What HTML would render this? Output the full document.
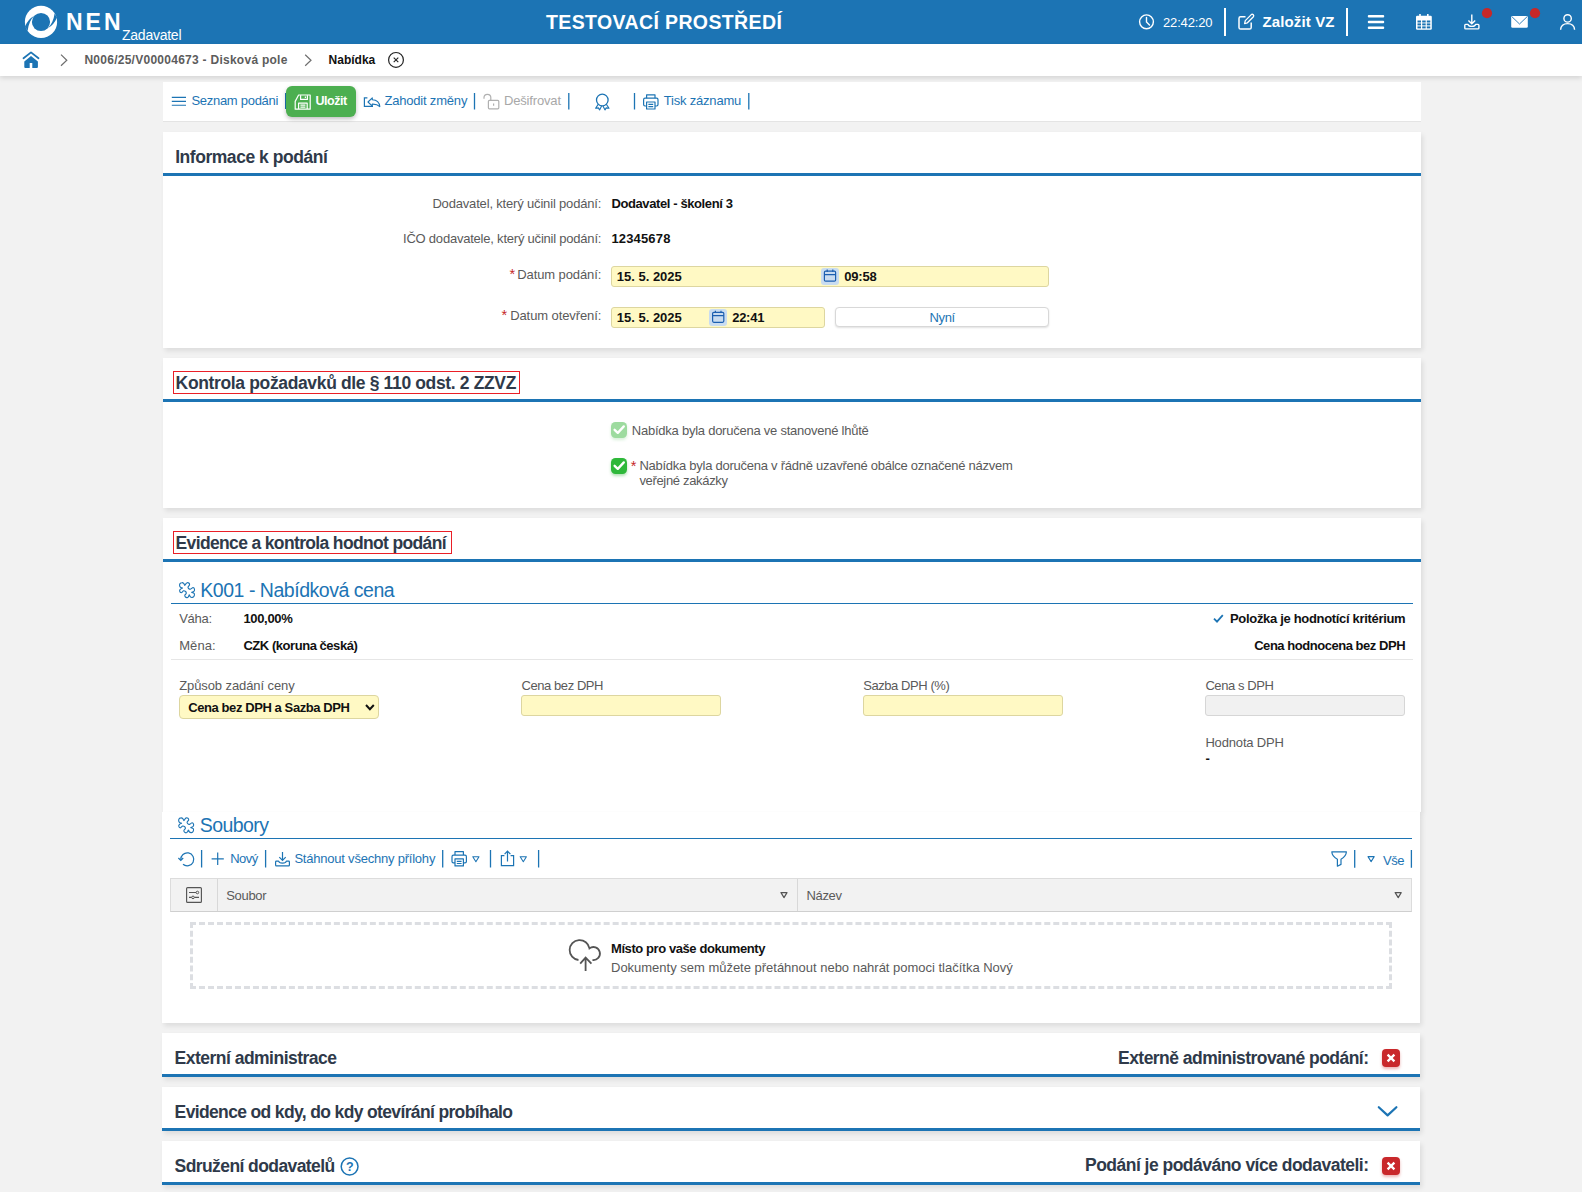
<!DOCTYPE html>
<html lang="cs"><head>
<meta charset="utf-8">
<title>NEN - Nabídka</title>
<style>
*{box-sizing:border-box;margin:0;padding:0}
html,body{width:1582px;height:1192px;overflow:hidden}
body{background:#f2f2f2;font-family:"Liberation Sans",sans-serif;font-size:13px;color:#222;position:relative}
.abs,.t{position:absolute;white-space:nowrap}
.t{line-height:16px;height:16px}
.b{font-weight:bold}
.blue{color:#1c74b4}
.gray{color:#5a5a5a}
.r{text-align:right}
#hdr{left:0;top:0;width:1582px;height:44px;background:#1c74b4}
#bc{left:0;top:44px;width:1582px;height:32px;background:#fff;box-shadow:0 2px 5px rgba(0,0,0,.13)}
.panel{position:absolute;background:#fff;box-shadow:2px 3px 5px rgba(0,0,0,.09)}
.hline{position:absolute;left:0;right:0;height:3px;background:#1c74b4}
.ptitle{position:absolute;font-weight:bold;font-size:17.5px;line-height:22px;color:#2f3a4a;white-space:nowrap;letter-spacing:-0.6px}
.sep{position:absolute;width:2px;height:16px;background:#1c74b4}
.inp{position:absolute;border:1px solid #ddd6a0;border-radius:3px;background:#fff9c4;height:21px}
svg{position:absolute;overflow:visible}
</style>
</head>
<body>

<!-- HEADER -->
<div id="hdr" class="abs"></div>
<div id="bc" class="abs"></div>

<!-- PANELS -->
<div class="panel" id="ptool" style="left:163px;top:82px;width:1258px;height:38.6px;box-shadow:0 1px 0 #e4e4e4"></div>
<div class="panel" id="p1" style="left:163px;top:132px;width:1258px;height:216px"><div class="hline" style="top:41px"></div></div>
<div class="panel" id="p2" style="left:163px;top:358px;width:1258px;height:149.5px"><div class="hline" style="top:41px"></div></div>
<div class="panel" id="p3" style="left:163px;top:518px;width:1258px;height:294px"><div class="hline" style="top:41px"></div></div>
<div class="panel" id="p3b" style="left:162px;top:812px;width:1258px;height:211px"></div>
<div class="panel" id="p4" style="left:162px;top:1033px;width:1258px;height:44px"><div class="hline" style="top:41px;height:3px"></div></div>
<div class="panel" id="p5" style="left:162px;top:1087px;width:1258px;height:44px"><div class="hline" style="top:41px;height:3px"></div></div>
<div class="panel" id="p6" style="left:162px;top:1141px;width:1258px;height:44px"><div class="hline" style="top:41px;height:3px"></div></div>


<header>
<!-- header content -->
<svg style="left:0;top:0" width="1582" height="44" viewBox="0 0 1582 44">
  <circle cx="41" cy="21.9" r="16.1" fill="#fff"></circle>
  <circle cx="41" cy="22" r="9.1" fill="#1c74b4"></circle>
  <path d="M34.2,15.8 Q27.8,19.5 25,26.6 L27.6,31 Q28.6,21.5 34.2,15.8 Z" fill="#1c74b4"></path>
  <path d="M47.8,28.2 Q54.2,24.5 57,17.4 L54.6,13.4 Q53.4,22.5 47.8,28.2 Z" fill="#1c74b4"></path>
  <!-- clock -->
  <circle cx="1146.5" cy="21.8" r="6.9" fill="none" stroke="#fff" stroke-width="1.4"></circle>
  <path d="M1146.5,17.5 V22 L1149.5,25" fill="none" stroke="#fff" stroke-width="1.4" stroke-linecap="round"></path>
  <rect x="1224" y="8" width="2" height="28" fill="#fff"></rect>
  <rect x="1346" y="8" width="2" height="28" fill="#fff"></rect>
  <!-- edit -->
  <path d="M1245.5,16.8 H1240.6 Q1239,16.8 1239,18.4 V27.4 Q1239,29 1240.6,29 H1249.6 Q1251.2,29 1251.2,27.4 V22.5" fill="none" stroke="#fff" stroke-width="1.5"></path>
  <path d="M1244.6,23.6 L1245.3,20.6 L1251.3,14.6 Q1252.3,13.8 1253.3,14.8 Q1254.2,15.8 1253.4,16.7 L1247.4,22.8 Z" fill="none" stroke="#fff" stroke-width="1.3" stroke-linejoin="round"></path>
  <!-- hamburger -->
  <rect x="1367.8" y="15.1" width="16.4" height="2.4" rx="1" fill="#fff"></rect>
  <rect x="1367.8" y="20.8" width="16.4" height="2.4" rx="1" fill="#fff"></rect>
  <rect x="1367.8" y="26.5" width="16.4" height="2.4" rx="1" fill="#fff"></rect>
  <!-- calendar -->
  <path d="M1416,17 Q1416,15.8 1417.2,15.8 H1430.6 Q1431.8,15.8 1431.8,17 V28.6 Q1431.8,29.8 1430.6,29.8 H1417.2 Q1416,29.8 1416,28.6 Z" fill="#fff"></path>
  <rect x="1419.2" y="14" width="1.6" height="3.4" fill="#fff"></rect><rect x="1427" y="14" width="1.6" height="3.4" fill="#fff"></rect>
  <g fill="#1c74b4"><rect x="1417.5" y="20.5" width="3.5" height="2"></rect><rect x="1422.2" y="20.5" width="3.5" height="2"></rect><rect x="1426.8" y="20.5" width="3.5" height="2"></rect><rect x="1417.5" y="23.4" width="3.5" height="2"></rect><rect x="1422.2" y="23.4" width="3.5" height="2"></rect><rect x="1426.8" y="23.4" width="3.5" height="2"></rect><rect x="1417.5" y="26.4" width="3.5" height="2"></rect><rect x="1422.2" y="26.4" width="3.5" height="2"></rect><rect x="1426.8" y="26.4" width="3.5" height="2"></rect></g>
  <!-- download -->
  <path d="M1471.8,14.4 V23.4 M1468.4,20.4 L1471.8,23.8 L1475.2,20.4" fill="none" stroke="#fff" stroke-width="1.4"></path>
  <path d="M1468,24.4 H1465.6 Q1464.8,24.4 1464.8,25.2 V28 Q1464.8,28.9 1465.6,28.9 H1478 Q1478.9,28.9 1478.9,28 V25.2 Q1478.9,24.4 1478,24.4 H1475.6 Q1475.2,26.4 1471.8,26.4 Q1468.4,26.4 1468,24.4 Z" fill="none" stroke="#fff" stroke-width="1.4" stroke-linejoin="round"></path>
  <circle cx="1487" cy="13.2" r="5.1" fill="#c62828"></circle>
  <!-- mail -->
  <rect x="1511.2" y="16" width="16.6" height="11.8" rx="1.3" fill="#fff"></rect>
  <path d="M1511.8,16.6 L1519.5,24 L1527.2,16.6" fill="none" stroke="#1c74b4" stroke-width="0.9"></path>
  <circle cx="1535" cy="13.2" r="5.1" fill="#c62828"></circle>
  <!-- user -->
  <circle cx="1567.6" cy="18.4" r="3.7" fill="none" stroke="#fff" stroke-width="1.4"></circle>
  <path d="M1560.6,29.8 Q1561,23.6 1567.6,23.6 Q1574.2,23.6 1574.6,29.8" fill="none" stroke="#fff" stroke-width="1.4"></path>
</svg>
<div class="t b" style="left: 66px; font-size: 23px; line-height: 26px; height: 26px; color: rgb(255, 255, 255); letter-spacing: 2.969px; top: 9px;">NEN</div>
<div class="t" style="left: 122px; font-size: 14px; color: rgb(255, 255, 255); letter-spacing: -0.248px; top: 27px;">Zadavatel</div>
<div class="t b" style="left: 546px; font-size: 19.5px; line-height: 24px; height: 24px; color: rgb(255, 255, 255); letter-spacing: 0.379px; top: 10px;">TESTOVACÍ PROSTŘEDÍ</div>
<div class="t" style="left: 1163px; font-size: 13px; color: rgb(255, 255, 255); letter-spacing: -0.158px; top: 15px;">22:42:20</div>
<div class="t b" style="left: 1262.5px; font-size: 15px; line-height: 18px; height: 18px; color: rgb(255, 255, 255); letter-spacing: 0.128px; top: 13px;">Založit VZ</div>

</header>
<nav aria-label="breadcrumb">
<!-- breadcrumb content -->
<svg style="left:0;top:44px" width="500" height="32" viewBox="0 44 500 32">
  <path d="M23.5,58.3 L31,52.4 L38.5,58.3" fill="none" stroke="#1c74b4" stroke-width="1.8" stroke-linejoin="round" stroke-linecap="round"></path>
  <path d="M31,56.1 L37.9,61.5 V66.9 Q37.9,67.9 36.9,67.9 H32.3 V63 H29.7 V67.9 H25.3 Q24.3,67.9 24.3,66.9 V61.5 Z" fill="#1c74b4"></path>
  <path d="M61,54.6 L66.8,60.2 L61,65.7" fill="none" stroke="#6e6e6e" stroke-width="1.2"></path>
  <path d="M305.2,54.8 L311,60.3 L305.2,65.8" fill="none" stroke="#6e6e6e" stroke-width="1.2"></path>
  <circle cx="396" cy="59.9" r="7.4" fill="none" stroke="#222" stroke-width="1.2"></circle>
  <path d="M393.7,57.6 L398.3,62.2 M398.3,57.6 L393.7,62.2" fill="none" stroke="#222" stroke-width="1.1"></path>
</svg>
<div class="t b" style="left: 84.4px; font-size: 12px; color: rgb(92, 92, 92); letter-spacing: 0.265px; top: 52px;">N006/25/V00004673 - Disková pole</div>
<div class="t b" style="left: 328.5px; font-size: 12px; color: rgb(17, 17, 17); letter-spacing: 0.019px; top: 52px;">Nabídka</div>


</nav>
<main>
<section aria-label="toolbar">
<!-- toolbar -->
<div class="abs" style="left:284.6px;top:93px;width:1.6px;height:16.4px;background:#1c74b4"></div>
<div class="abs" id="btnsave" style="left:286px;top:86px;width:70px;height:30.5px;background:#4caf50;border-radius:6px;box-shadow:0 2px 4px rgba(0,0,0,.25)"></div>
<svg style="left:160px;top:82px" width="640" height="40" viewBox="160 82 640 40" fill="none" stroke="#1c74b4" stroke-width="1.2">
  <path d="M171.8,97.4 H186 M171.8,101.4 H186 M171.8,105.3 H186" stroke-width="1.1"></path>
  <!-- save -->
  <g stroke="#fff" stroke-width="1.2" stroke-linejoin="round">
   <path d="M295.2,109.2 V101.4 L298.6,95 H310.2 V109.2 Z"></path>
   <path d="M300.6,95.2 V99.4 H307.4 V95.2 M305.4,96.4 V98"></path>
   <path d="M298.6,109 V103.2 H307.2 V109 M300.4,105.2 H305.4 M300.4,107.2 H305.4"></path>
  </g>
  <!-- undo -->
  <path d="M367.4,97.8 H364.4 V106.4 H373" stroke-width="1.2"></path>
  <path d="M368,102 L372.3,97.8 V99.7 Q379.2,100 379.8,106.6 Q377,103.9 372.3,104.1 V106.2 Z" stroke-width="1.1" stroke-linejoin="round"></path>
  <!-- seps -->
  <path d="M474.5,93 V109.4 M568.8,93 V109.4 M634.5,93 V109.4 M748.8,93 V109.4" stroke-width="1.3"></path>
  <!-- lock -->
  <g stroke="#b0b0b0" stroke-width="1.2">
   <rect x="488.4" y="100.4" width="10.4" height="8.4" rx="1"></rect>
   <path d="M484,98.8 V97.6 Q484,94.4 487.4,94.4 Q490.8,94.4 490.8,97.6 V100.2"></path>
   <path d="M493.6,103.4 V105.8"></path>
  </g>
  <!-- award -->
  <circle cx="602.3" cy="100" r="5.8" stroke-width="1.3"></circle>
  <path d="M598.2,104.4 L595.6,108.2 L598.4,107.9 L599.6,109.9 L601.6,105.9 M606.4,104.4 L609,108.2 L606.2,107.9 L605,109.9 L603,105.9" stroke-width="1.1" stroke-linejoin="round"></path>
  <!-- print -->
  <g stroke-width="1.2" stroke-linejoin="round">
   <path d="M646.6,98.2 V94.8 H655 V98.2"></path>
   <path d="M646.6,106 H645 Q643.6,106 643.6,104.6 V99.8 Q643.6,98.2 645,98.2 H656.6 Q658,98.2 658,99.8 V104.6 Q658,106 656.6,106 H655"></path>
   <path d="M646.6,102 H655 V109 H646.6 Z M648.4,104.4 H653.2 M648.4,106.6 H653.2"></path>
  </g>
</svg>
<div class="t blue" style="left: 191.4px; font-size: 13px; letter-spacing: -0.279px; top: 93px;">Seznam podáni</div>
<div class="t b" style="left: 315.6px; font-size: 12.5px; color: rgb(255, 255, 255); letter-spacing: -0.506px; top: 92.8px;">Uložit</div>
<div class="t blue" style="left: 384.4px; font-size: 13px; letter-spacing: -0.189px; top: 93px;">Zahodit změny</div>
<div class="t" style="left: 504px; font-size: 13px; color: rgb(168, 168, 168); letter-spacing: -0.17px; top: 93px;">Dešifrovat</div>
<div class="t blue" style="left: 663.8px; font-size: 13px; letter-spacing: -0.202px; top: 93px;">Tisk záznamu</div>


</section>
<section>
<!-- panel 1 content -->
<h2 class="ptitle" style="left: 175.2px; letter-spacing: -0.462px; top: 146px;">Informace k podání</h2>
<label class="t gray" style="left: 432.4px; letter-spacing: -0.172px; top: 195.6px;">Dodavatel, který učinil podání:</label>
<div class="t b" style="left: 611.4px; color: rgb(17, 17, 17); letter-spacing: -0.391px; top: 195.6px;">Dodavatel - školení 3</div>
<label class="t gray" style="left: 403px; letter-spacing: -0.216px; top: 230.6px;">IČO dodavatele, který učinil podání:</label>
<div class="t b" style="left: 611.4px; color: rgb(17, 17, 17); letter-spacing: 0.165px; top: 230.6px;">12345678</div>
<div class="t" style="left: 509.4px; color: rgb(198, 40, 40); font-size: 14.5px; letter-spacing: 0px; top: 266px;">*</div>
<label class="t gray" style="left: 517.3px; letter-spacing: -0.107px; top: 266.6px;">Datum podání:</label>
<div class="t" style="left: 501.6px; color: rgb(198, 40, 40); font-size: 14.5px; letter-spacing: 0px; top: 307px;">*</div>
<label class="t gray" style="left: 510.2px; letter-spacing: -0.093px; top: 307.6px;">Datum otevření:</label>
<div class="inp" style="left:611px;top:266px;width:438px;height:21px"></div>
<div class="inp" style="left:611px;top:307px;width:214px;height:21px"></div>
<div class="abs" style="left:821px;top:268.2px;width:18px;height:16.4px;border-radius:3px;background:#c9dcf0"></div>
<div class="abs" style="left:709.2px;top:309.3px;width:18px;height:16.4px;border-radius:3px;background:#c9dcf0"></div>
<svg style="left:600px;top:260px" width="460" height="75" viewBox="600 260 460 75" fill="none" stroke="#1c5fb0" stroke-width="1.2">
  <g id="calico"><rect x="824.4" y="271.2" width="11.2" height="10" rx="1.2"></rect><path d="M824.4,274.6 H835.6 M827.2,269.6 V272 M832.8,269.6 V272"></path></g>
  <g transform="translate(-111.8,41.1)"><rect x="824.4" y="271.2" width="11.2" height="10" rx="1.2"></rect><path d="M824.4,274.6 H835.6 M827.2,269.6 V272 M832.8,269.6 V272"></path></g>
</svg>
<div class="t b" style="left: 616.8px; color: rgb(17, 17, 17); letter-spacing: -0.006px; top: 268.6px;">15. 5. 2025</div>
<div class="t b" style="left: 844.2px; color: rgb(17, 17, 17); letter-spacing: -0.162px; top: 268.6px;">09:58</div>
<div class="t b" style="left: 616.8px; color: rgb(17, 17, 17); letter-spacing: -0.006px; top: 309.6px;">15. 5. 2025</div>
<div class="t b" style="left: 732.2px; color: rgb(17, 17, 17); letter-spacing: -0.262px; top: 309.6px;">22:41</div>
<div class="abs" style="left:835px;top:307px;width:214px;height:20px;border:1px solid #d8d8d8;border-radius:4px;background:#fff;box-shadow:0 1px 2px rgba(0,0,0,.12)"></div>
<div class="t blue" style="left: 929.6px; letter-spacing: -0.411px; top: 309.5px;">Nyní</div>


</section>
<section>
<!-- panel 2 content -->
<div class="abs" style="left:173px;top:371px;width:347px;height:23px;border:1px solid #ea1f27"></div>
<h2 class="ptitle" style="left: 175.6px; letter-spacing: -0.354px; top: 371.8px;">Kontrola požadavků dle § 110 odst. 2 ZZVZ</h2>
<div class="abs" style="left:611px;top:422px;width:16.4px;height:16.2px;border-radius:4.5px;background:#9ddb9f;box-shadow:0 2px 3px rgba(60,180,70,.2)"></div>
<div class="abs" style="left:611px;top:458px;width:16.4px;height:16.2px;border-radius:4.5px;background:#2eb83a;box-shadow:0 2px 3px rgba(40,170,50,.35)"></div>
<svg style="left:611px;top:422px" width="17" height="53" viewBox="611 422 17 53" fill="none" stroke="#fff" stroke-width="2.3" stroke-linecap="round" stroke-linejoin="round">
  <path d="M614.6,429.8 L617.8,432.9 L623.8,426.4"></path>
  <path d="M614.6,465.8 L617.8,468.9 L623.8,462.4"></path>
</svg>
<label class="t gray" style="left: 631.8px; letter-spacing: -0.242px; top: 423px;">Nabídka byla doručena ve stanovené lhůtě</label>
<div class="t" style="left: 630.8px; color: rgb(198, 40, 40); font-size: 14.5px; letter-spacing: 0px; top: 457.5px;">*</div>
<label class="t gray" style="left: 639.4px; letter-spacing: -0.257px; top: 458.3px;">Nabídka byla doručena v řádně uzavřené obálce označené názvem</label>
<label class="t gray" style="left: 639.4px; letter-spacing: -0.33px; top: 472.8px;">veřejné zakázky</label>


</section>
<section>
<!-- panel 3 content -->
<div class="abs" style="left:173px;top:531px;width:279px;height:23px;border:1px solid #ea1f27"></div>
<h2 class="ptitle" style="left: 175.6px; letter-spacing: -0.647px; top: 531.6px;">Evidence a kontrola hodnot podání</h2>
<svg style="left:163px;top:570px;z-index:3" width="1258" height="452" viewBox="163 570 1258 452" fill="none" stroke="#1c74b4" stroke-width="1.1">
  <path d="M184.8,585.4 C184.5,585.3 184.1,583.7 183.6,583.3 C183.1,582.8 182.4,582.6 181.8,582.7 C181.2,582.7 180.4,583.1 180.0,583.6 C179.7,584.1 179.5,585.0 179.6,585.6 C179.7,586.2 180.1,587.0 180.6,587.4 C181.0,587.8 182.5,587.8 182.5,588.0 C182.5,588.3 181.0,588.5 180.6,589.0 C180.1,589.4 179.5,590.1 179.6,590.8 C179.7,591.4 180.6,592.7 181.3,592.7 C181.9,592.7 182.9,591.0 183.6,590.8 C184.3,590.6 185.1,591.1 185.6,591.5 C186.0,591.9 186.4,592.6 186.3,593.3 C186.1,593.9 185.0,594.6 184.8,595.2 C184.7,595.8 185.0,596.6 185.4,597.0 C185.8,597.4 186.6,597.7 187.2,597.6 C187.7,597.6 188.2,596.9 188.6,596.5 C188.9,596.0 189.0,594.7 189.3,594.8 C189.6,594.8 189.9,596.4 190.4,596.8 C190.9,597.3 191.7,597.5 192.3,597.4 C192.9,597.3 193.7,596.9 194.0,596.3 C194.3,595.7 194.5,594.5 194.4,594.0 C194.2,593.4 193.7,593.2 193.2,592.9 C192.8,592.6 191.6,592.7 191.7,592.4 C191.8,592.2 193.5,591.8 193.9,591.3 C194.4,590.8 194.7,590.0 194.5,589.3 C194.4,588.7 193.7,587.8 193.2,587.6 C192.8,587.4 192.3,587.9 191.8,588.2 C191.3,588.4 190.9,589.2 190.4,589.2 C189.8,589.3 189.0,588.9 188.6,588.5 C188.2,588.1 187.9,587.7 188.0,587.0 C188.2,586.4 189.5,585.4 189.6,584.7 C189.7,584.0 189.2,583.4 188.8,583.0 C188.4,582.7 187.6,582.5 187.2,582.7 C186.7,582.8 186.3,583.4 185.9,583.8 C185.5,584.3 185.2,585.5 184.8,585.4 Z"></path>
  <path d="M183.9,820.6 C183.6,820.5 183.2,818.9 182.7,818.5 C182.2,818.0 181.5,817.8 180.9,817.9 C180.3,817.9 179.5,818.3 179.1,818.8 C178.8,819.3 178.6,820.2 178.7,820.8 C178.8,821.4 179.2,822.2 179.7,822.6 C180.1,823.0 181.6,823.0 181.6,823.2 C181.6,823.5 180.1,823.7 179.7,824.2 C179.2,824.6 178.6,825.3 178.7,826.0 C178.8,826.6 179.7,827.9 180.4,827.9 C181.0,827.9 182.0,826.2 182.7,826.0 C183.4,825.8 184.2,826.3 184.7,826.7 C185.1,827.1 185.5,827.8 185.4,828.5 C185.2,829.1 184.1,829.8 183.9,830.4 C183.8,831.0 184.1,831.8 184.5,832.2 C184.9,832.6 185.7,832.9 186.3,832.8 C186.8,832.8 187.3,832.1 187.7,831.7 C188.0,831.2 188.1,829.9 188.4,830.0 C188.7,830.0 189.0,831.6 189.5,832.0 C190.0,832.5 190.8,832.7 191.4,832.6 C192.0,832.5 192.8,832.1 193.1,831.5 C193.4,830.9 193.6,829.7 193.5,829.2 C193.3,828.6 192.8,828.4 192.3,828.1 C191.9,827.8 190.7,827.9 190.8,827.6 C190.9,827.4 192.6,827.0 193.0,826.5 C193.5,826.0 193.8,825.2 193.6,824.5 C193.5,823.9 192.8,823.0 192.3,822.8 C191.9,822.6 191.4,823.1 190.9,823.4 C190.4,823.6 190.0,824.4 189.5,824.4 C188.9,824.5 188.1,824.1 187.7,823.7 C187.3,823.3 187.0,822.9 187.1,822.2 C187.3,821.6 188.6,820.6 188.7,819.9 C188.8,819.2 188.3,818.6 187.9,818.2 C187.5,817.9 186.7,817.7 186.3,817.9 C185.8,818.0 185.4,818.6 185.0,819.0 C184.6,819.5 184.3,820.7 183.9,820.6 Z"></path>
  <!-- check -->
  <path d="M1214,618.6 L1217,621.6 L1222.8,615.2" stroke-width="1.8"></path>
  <!-- select chevron -->
  <path d="M366,705 L369.9,709.2 L373.8,705" stroke="#111" stroke-width="2"></path>
  <!-- refresh -->
  <path d="M180.8,859.8 A6.5,6.5 0 1 1 183,864.2" stroke-width="1.2"></path>
  <path d="M178.4,858 L180.8,860.4 L183.2,858" stroke-width="1.2"></path>
  <!-- seps -->
  <path d="M201.6,850 V867.6 M265.6,850 V867.6 M442.7,850 V867.6 M490.5,850 V867.6 M538.6,850 V867.6 M1354.7,850 V867.8 M1411.4,850 V867.8" stroke-width="1.3"></path>
  <!-- plus -->
  <path d="M211.6,858.8 H223.8 M217.7,852.6 V865" stroke-width="1.2"></path>
  <!-- download -->
  <path d="M282.5,852 V860.2 M279.3,857.2 L282.5,860.4 L285.7,857.2" stroke-width="1.2"></path>
  <path d="M278.6,861.2 H276.4 Q275.6,861.2 275.6,862 V865 Q275.6,865.9 276.4,865.9 H288.6 Q289.4,865.9 289.4,865 V862 Q289.4,861.2 288.6,861.2 H286.4 Q286,863.2 282.5,863.2 Q279,863.2 278.6,861.2 Z" stroke-width="1.2" stroke-linejoin="round"></path>
  <!-- print -->
  <g stroke-width="1.2" stroke-linejoin="round" transform="translate(-191.6,756.9)">
   <path d="M646.6,98.2 V94.8 H655 V98.2"></path>
   <path d="M646.6,106 H645 Q643.6,106 643.6,104.6 V99.8 Q643.6,98.2 645,98.2 H656.6 Q658,98.2 658,99.8 V104.6 Q658,106 656.6,106 H655"></path>
   <path d="M646.6,102 H655 V109 H646.6 Z M648.4,104.4 H653.2 M648.4,106.6 H653.2"></path>
  </g>
  <!-- triangles -->
  <path d="M472.8,856.8 H479 L475.9,861.8 Z M520.2,856.8 H526.4 L523.3,861.8 Z M1368,856.6 H1374.2 L1371.1,861.6 Z" stroke-width="1.05" stroke-linejoin="round"></path>
  <path d="M781,892.6 H787 L784,897.6 Z M1395.2,892.6 H1401.2 L1398.2,897.6 Z" stroke="#555" stroke-width="1.2" stroke-linejoin="round"></path>
  <!-- share -->
  <path d="M504.4,855.6 H501.4 V865.6 H513.6 V855.6 H510.6" stroke-width="1.2"></path>
  <path d="M507.5,861.4 V851.4 M504.6,854.2 L507.5,851.2 L510.4,854.2" stroke-width="1.2"></path>
  <!-- filter -->
  <path d="M1331.8,851.8 H1346.4 Q1346.2,856.4 1341,859.2 V864.4 L1337.4,866.2 V859.2 Q1332,856.4 1331.8,851.8 Z" stroke-width="1.2" stroke-linejoin="round"></path>
  <!-- settings -->
  <g stroke="#555" stroke-width="1.15">
   <rect x="186.6" y="887.6" width="14.8" height="14.8" rx="1"></rect>
   <path d="M189,892.5 H196 M189,897.4 H191.6 M194.4,897.4 H199" stroke-width="1.1"></path>
   <circle cx="197.4" cy="892.5" r="1.3" stroke-width="1"></circle><circle cx="193" cy="897.4" r="1.3" stroke-width="1"></circle>
  </g>
  <!-- cloud -->
  <g stroke="#555" stroke-width="1.8" stroke-linecap="butt" stroke-linejoin="miter">
   <path d="M578.5,960 A10,10 0 1 1 589.5,948.4 A6.5,6.5 0 1 1 592.5,960"></path>
   <path d="M585.6,970.9 V957.6 M580.2,963.7 L585.6,957.6 L591.4,963.7"></path>
  </g>
</svg>
<div class="t blue" style="left: 200.3px; font-size: 19.5px; line-height: 24px; height: 24px; letter-spacing: -0.471px; top: 577.7px;">K001 - Nabídková cena</div>
<div class="abs" style="left:171px;top:602.8px;width:1242px;height:1.5px;background:#1c74b4"></div>
<label class="t gray" style="left: 179.2px; letter-spacing: -0.246px; top: 610.9px;">Váha:</label>
<div class="t b" style="left: 243.4px; color: rgb(17, 17, 17); letter-spacing: -0.321px; top: 610.9px;">100,00%</div>
<div class="t b" style="left: 1230px; color: rgb(17, 17, 17); letter-spacing: -0.321px; top: 610.9px;">Položka je hodnotící kritérium</div>
<label class="t gray" style="left: 179.2px; letter-spacing: 0.065px; top: 637.7px;">Měna:</label>
<div class="t b" style="left: 243.4px; color: rgb(17, 17, 17); letter-spacing: -0.453px; top: 637.7px;">CZK (koruna česká)</div>
<div class="t b" style="left: 1254.2px; color: rgb(17, 17, 17); letter-spacing: -0.461px; top: 637.7px;">Cena hodnocena bez DPH</div>
<div class="abs" style="left:171px;top:659px;width:1242px;height:1px;background:#e6e6e6"></div>
<label class="t gray" style="left: 179.2px; letter-spacing: -0.093px; top: 677.6px;">Způsob zadání ceny</label>
<label class="t gray" style="left: 521.5px; letter-spacing: -0.429px; top: 677.6px;">Cena bez DPH</label>
<label class="t gray" style="left: 863.2px; letter-spacing: -0.429px; top: 677.6px;">Sazba DPH (%)</label>
<label class="t gray" style="left: 1205.4px; letter-spacing: -0.406px; top: 677.6px;">Cena s DPH</label>
<div class="inp" style="left:179px;top:695px;width:200px;height:23.5px;border-radius:4px"></div>
<div class="t b" style="left: 188.2px; color: rgb(17, 17, 17); letter-spacing: -0.41px; top: 699.9px;">Cena bez DPH a Sazba DPH</div>
<div class="inp" style="left:521px;top:695px;width:200px;height:21px"></div>
<div class="inp" style="left:863px;top:695px;width:200px;height:21px"></div>
<div class="inp" style="left:1205px;top:695px;width:200px;height:21px;background:#f1f1f1;border-color:#d6d6d6"></div>
<label class="t gray" style="left: 1205.4px; letter-spacing: -0.162px; top: 735px;">Hodnota DPH</label>
<div class="t b" style="left: 1205.6px; color: rgb(17, 17, 17); letter-spacing: 0px; top: 751px;">-</div>

<div class="t blue" style="left: 199.8px; font-size: 19.5px; line-height: 24px; height: 24px; letter-spacing: -0.573px; top: 812.5px;">Soubory</div>
<div class="abs" style="left:170px;top:837.8px;width:1242px;height:1.5px;background:#1c74b4"></div>
<div class="t blue" style="left: 230.2px; letter-spacing: -0.542px; top: 850.6px;">Nový</div>
<div class="t blue" style="left: 294.4px; letter-spacing: -0.217px; top: 850.6px;">Stáhnout všechny přílohy</div>
<div class="t blue" style="left: 1383px; letter-spacing: -0.503px; top: 852.7px;">Vše</div>
<div class="abs" style="left:170px;top:878px;width:1242px;height:33.5px;background:#f2f2f2;border:1px solid #dcdcdc;border-bottom-color:#cfcfcf"></div>
<div class="abs" style="left:217px;top:879px;width:1px;height:32px;background:#d8d8d8"></div>
<div class="abs" style="left:797px;top:879px;width:1px;height:32px;background:#d8d8d8"></div>
<label class="t gray" style="left: 226.2px; letter-spacing: -0.304px; top: 887.7px;">Soubor</label>
<label class="t gray" style="left: 806.6px; letter-spacing: -0.365px; top: 887.7px;">Název</label>
<div class="abs" style="left:190px;top:922px;width:1202px;height:67px;border:3px dashed #dcdee2"></div>
<div class="t b" style="left: 611px; color: rgb(17, 17, 17); letter-spacing: -0.417px; top: 941.2px;">Místo pro vaše dokumenty</div>
<label class="t gray" style="left: 611px; letter-spacing: -0.011px; top: 960px;">Dokumenty sem můžete přetáhnout nebo nahrát pomoci tlačítka Nový</label>


</section>
<section>
<!-- panels 4-6 content -->
<h2 class="ptitle" style="left: 174.6px; letter-spacing: -0.513px; top: 1046.8px;">Externí administrace</h2>
<h2 class="ptitle" style="left: 1118px; letter-spacing: -0.533px; top: 1046.8px;">Externě administrované podání:</h2>
<h2 class="ptitle" style="left: 174.6px; letter-spacing: -0.641px; top: 1100.8px;">Evidence od kdy, do kdy otevírání probíhalo</h2>
<h2 class="ptitle" style="left: 174.6px; letter-spacing: -0.586px; top: 1154.6px;">Sdružení dodavatelů</h2>
<h2 class="ptitle" style="left: 1085px; letter-spacing: -0.514px; top: 1154.4px;">Podání je podáváno více dodavateli:</h2>
<div class="abs" style="left:1382px;top:1049px;width:18px;height:18px;border-radius:4px;background:#c9282b;box-shadow:0 2px 3px rgba(200,40,40,.35)"></div>
<div class="abs" style="left:1382px;top:1157px;width:18px;height:18px;border-radius:4px;background:#c9282b;box-shadow:0 2px 3px rgba(200,40,40,.35)"></div>
<svg style="left:330px;top:1040px;z-index:3" width="1080" height="145" viewBox="330 1040 1080 145" fill="none">
  <path d="M1387.6,1054.6 L1394.4,1061.4 M1394.4,1054.6 L1387.6,1061.4" stroke="#fff" stroke-width="2.3"></path>
  <path d="M1387.6,1162.6 L1394.4,1169.4 M1394.4,1162.6 L1387.6,1169.4" stroke="#fff" stroke-width="2.3"></path>
  <path d="M1378.8,1107.2 L1387.6,1115.4 L1396.4,1107.2" stroke="#1c74b4" stroke-width="2.2" stroke-linecap="round" stroke-linejoin="round"></path>
  <circle cx="349.6" cy="1166.5" r="8.4" stroke="#1c74b4" stroke-width="1.5"></circle>
</svg>
<div class="t blue b" style="left: 346px; font-size: 12.5px; z-index: 4; letter-spacing: 0px; top: 1159.2px;">?</div>

</section>
</main>



</body></html>
